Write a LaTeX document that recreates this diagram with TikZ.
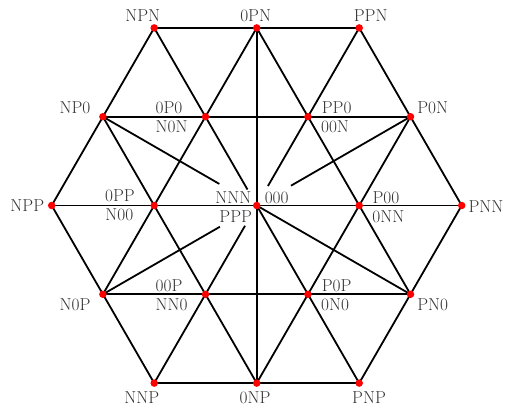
\documentclass[tikz,border=0pt]{standalone}
\usetikzlibrary{calc}
\begin{document}
\begin{tikzpicture}[x=1pt,y=-1pt,
  edge/.style={line width=1.8pt, black},
  dot/.style={circle, fill=red, inner sep=0pt, minimum size=7.5pt},
  lbl/.style={inner sep=0pt, text=black!80, font=\fontsize{17.3}{20}\selectfont}]
\useasboundingbox (0,0) rectangle (505,409);
% positions
\coordinate (pO)   at (256.7,205.5);
\coordinate (pNPN) at (154.2,27.9);
\coordinate (p0PN) at (256.7,27.9);
\coordinate (pPPN) at (359.2,27.9);
\coordinate (pNP0) at (102.9,116.7);
\coordinate (p0P0) at (205.5,116.7);
\coordinate (pPP0) at (307.9,116.7);
\coordinate (pP0N) at (410.5,116.7);
\coordinate (pNPP) at (51.7,205.5);
\coordinate (p0PP) at (154.2,205.5);
\coordinate (pP00) at (359.2,205.5);
\coordinate (pPNN) at (461.7,205.5);
\coordinate (pN0P) at (102.9,294.3);
\coordinate (p00P) at (205.5,294.3);
\coordinate (pP0P) at (307.9,294.3);
\coordinate (pPN0) at (410.5,294.3);
\coordinate (pNNP) at (154.2,383.1);
\coordinate (p0NP) at (256.7,383.1);
\coordinate (pPNP) at (359.2,383.1);
% gap ends near the centre labels
\coordinate (gA) at ($(pO)!0.114!(pNNP)$);
\coordinate (gB) at ($(pO)!0.11!(pPPN)$);
\coordinate (gC) at ($(pO)!0.09!(pNPN)$);
\coordinate (gD) at ($(pO)!0.243!(pNP0)$);
\coordinate (gE) at ($(pO)!0.223!(pP0N)$);
\coordinate (gF) at ($(pO)!0.239!(pN0P)$);
% horizontal lines
\draw[edge] (pNPN) -- (pPPN);
\draw[edge] (pNP0) -- (pP0N);
\draw[edge] (pNPP) -- (pPNN);
\draw[edge] (pN0P) -- (pPN0);
\draw[edge] (pNNP) -- (pPNP);
% vertical
\draw[edge] (p0PN) -- (p0NP);
% rising lines
\draw[edge] (pNPP) -- (pNPN);
\draw[edge] (pN0P) -- (p0PN);
\draw[edge] (pNNP) -- (gA);
\draw[edge] (gB) -- (pPPN);
\draw[edge] (p0NP) -- (pP0N);
\draw[edge] (pPNP) -- (pPNN);
% falling lines
\draw[edge] (pNPN) -- (gC);
\draw[edge] (pO) -- (pPNP);
\draw[edge] (pNP0) -- (p0NP);
\draw[edge] (p0PN) -- (pPN0);
\draw[edge] (pNPP) -- (pNNP);
\draw[edge] (pPPN) -- (pPNN);
% shallow lines
\draw[edge] (pNP0) -- (gD);
\draw[edge] (gE) -- (pP0N);
\draw[edge] (pN0P) -- (gF);
\draw[edge] (pO) -- (pPN0);
% dots
\foreach \p in {pO,pNPN,p0PN,pPPN,pNP0,p0P0,pPP0,pP0N,pNPP,p0PP,pP00,pPNN,pN0P,p00P,pP0P,pPN0,pNNP,p0NP,pPNP}
  \node[dot] (d\p) at (\p) {};
% labels
\node[lbl] (tNPN) at (142.7,16) {NPN};
\node[lbl] (t0PN) at (255.7,16) {0PN};
\node[lbl] (tPPN) at (370.7,16) {PPN};
\node[lbl] (tNP0) at (75,107.7) {NP0};
\node[lbl] (t0P0) at (169,107.7) {0P0};
\node[lbl] (tN0N) at (171.7,126.7) {N0N};
\node[lbl] (tPP0) at (336.7,107.7) {PP0};
\node[lbl] (t00N) at (335,126.7) {00N};
\node[lbl] (tP0N) at (432.7,107.7) {P0N};
\node[lbl] (tNPP) at (27.3,205.7) {NPP};
\node[lbl] (t0PP) at (120,196) {0PP};
\node[lbl] (tN00) at (119.3,215) {N00};
\node[lbl] (tNNN) at (233.3,197.7) {NNN};
\node[lbl] (tPPP) at (235.7,216.7) {PPP};
\node[lbl] (t000) at (276.7,197.7) {000};
\node[lbl] (tP00) at (386,197.7) {P00};
\node[lbl] (t0NN) at (388.3,216.7) {0NN};
\node[lbl] (tPNN) at (486,206.7) {PNN};
\node[lbl] (t00P) at (169,285.7) {00P};
\node[lbl] (tNN0) at (171.7,305) {NN0};
\node[lbl] (tN0P) at (75,305) {N0P};
\node[lbl] (tP0P) at (336.7,285.7) {P0P};
\node[lbl] (t0N0) at (335,305) {0N0};
\node[lbl] (tPN0) at (432.7,305) {PN0};
\node[lbl] (tNNP) at (141.7,397.3) {NNP};
\node[lbl] (t0NP) at (255,397.3) {0NP};
\node[lbl] (tPNP) at (369,397.3) {PNP};
\end{tikzpicture}
\end{document}
